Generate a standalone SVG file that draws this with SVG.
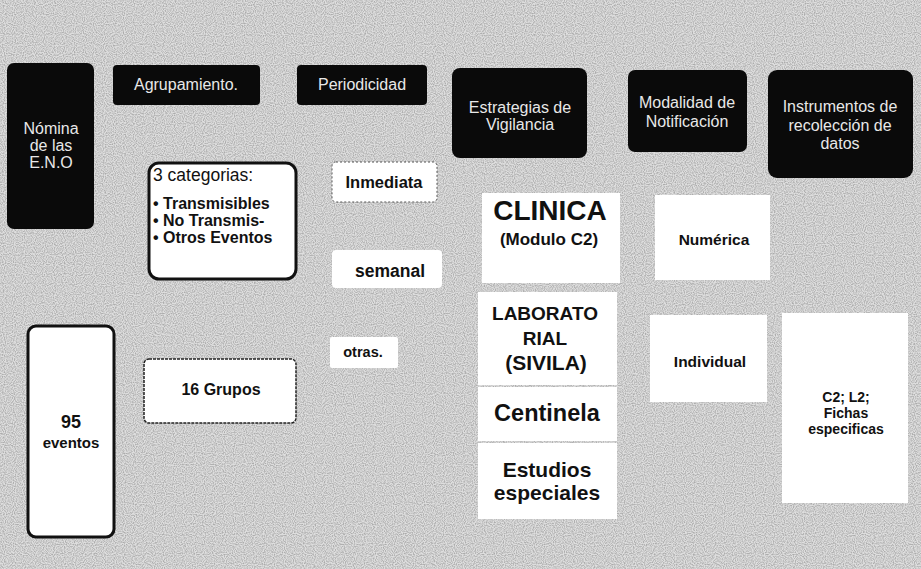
<svg xmlns="http://www.w3.org/2000/svg" width="921" height="569" viewBox="0 0 921 569">
<defs>
<filter id="noise" x="0" y="0" width="100%" height="100%">
<feTurbulence type="fractalNoise" baseFrequency="0.9" numOctaves="1" seed="3" result="t"/>
<feColorMatrix type="matrix" values="0 0 0 0 0  0 0 0 0 0  0 0 0 0 0  0 0 0 -2.6 1.65" />
</filter>
<style>
.hdr{fill:#0a0a0a;}
.ht{fill:#e8e8e8;font-family:"Liberation Sans",Arial,sans-serif;font-size:16px;text-anchor:middle;}
.wb{fill:#ffffff;}
.bb{fill:#ffffff;stroke:#111;stroke-width:3;}
.t{fill:#111;font-family:"Liberation Sans",Arial,sans-serif;text-anchor:middle;font-weight:bold;}
.tl{fill:#111;font-family:"Liberation Sans",Arial,sans-serif;font-weight:bold;}
</style>
</defs>
<rect x="0" y="0" width="921" height="569" fill="#dedede"/>
<rect x="0" y="0" width="921" height="569" fill="#000" filter="url(#noise)" opacity="0.22"/>

<g id="h-nomina">
<rect class="hdr" x="7" y="63" width="87" height="166" rx="7"/>
<text class="ht" x="51" y="134">Nómina</text>
<text class="ht" x="51" y="151">de las</text>
<text class="ht" x="51" y="168">E.N.O</text>
</g>
<g id="h-agrupamiento">
<rect class="hdr" x="113" y="65" width="147" height="40" rx="4"/>
<text class="ht" x="186" y="90">Agrupamiento.</text>
</g>
<g id="h-periodicidad">
<rect class="hdr" x="297" y="65" width="130" height="40" rx="4"/>
<text class="ht" x="362" y="90">Periodicidad</text>
</g>
<g id="h-estrategias">
<rect class="hdr" x="452" y="68" width="135" height="90" rx="8"/>
<text class="ht" x="520" y="113">Estrategias de</text>
<text class="ht" x="520" y="130">Vigilancia</text>
</g>
<g id="h-modalidad">
<rect class="hdr" x="628" y="70" width="119" height="82" rx="7"/>
<text class="ht" x="687" y="108">Modalidad de</text>
<text class="ht" x="687" y="127">Notificación</text>
</g>
<g id="h-instrumentos">
<rect class="hdr" x="768" y="70" width="145" height="108" rx="9"/>
<text class="ht" x="840" y="112">Instrumentos de</text>
<text class="ht" x="840" y="131">recolección de</text>
<text class="ht" x="840" y="149">datos</text>
</g>

<g id="n-categorias">
<rect class="bb" x="149" y="163" width="147" height="116" rx="10"/>
<text class="tl" x="153" y="181" font-size="17.5" style="font-weight:normal">3 categorias:</text>
<text class="tl" x="153" y="209" font-size="16">• Transmisibles</text>
<text class="tl" x="153" y="226" font-size="16">• No Transmis-</text>
<text class="tl" x="153" y="243" font-size="16">• Otros Eventos</text>
</g>
<g id="n-95">
<rect class="bb" x="28" y="326" width="86" height="211" rx="8"/>
<text class="t" x="71" y="428" font-size="18">95</text>
<text class="t" x="71" y="448" font-size="15">eventos</text>
</g>
<g id="n-16grupos">
<rect x="144" y="359" width="152" height="64" rx="5" fill="#fff" stroke="#222" stroke-width="1.5" stroke-dasharray="3 1"/>
<text class="t" x="221" y="395" font-size="16">16 Grupos</text>
</g>

<g id="n-inmediata">
<rect x="332" y="162" width="105" height="40" rx="4" fill="#fff" stroke="#555" stroke-width="1" stroke-dasharray="2 2"/>
<text class="t" x="384" y="188" font-size="16.5">Inmediata</text>
</g>
<g id="n-semanal">
<rect class="wb" x="332" y="250" width="110" height="38" rx="4"/>
<text class="t" x="390" y="277" font-size="17.5">semanal</text>
</g>
<g id="n-otras">
<rect class="wb" x="330" y="337" width="68" height="31" rx="2"/>
<text class="t" x="363" y="357" font-size="14.5">otras.</text>
</g>

<g id="n-clinica">
<rect class="wb" x="482" y="193" width="138" height="90"/>
<text class="t" x="550" y="220" font-size="28">CLINICA</text>
<text class="t" x="549" y="245" font-size="17">(Modulo C2)</text>
</g>
<g id="n-laboratorial">
<rect class="wb" x="478" y="292" width="139" height="93"/>
<text class="t" x="545" y="320" font-size="19">LABORATO</text>
<text class="t" x="545" y="345" font-size="19">RIAL</text>
<text class="t" x="546" y="370" font-size="21">(SIVILA)</text>
</g>
<g id="n-centinela">
<rect class="wb" x="478" y="387" width="139" height="54"/>
<text class="t" x="547" y="421" font-size="23.5">Centinela</text>
</g>
<g id="n-estudios">
<rect class="wb" x="478" y="443" width="139" height="76"/>
<text class="t" x="547" y="477" font-size="21">Estudios</text>
<text class="t" x="547" y="500" font-size="21">especiales</text>
</g>

<g id="n-numerica">
<rect class="wb" x="655" y="195" width="115" height="85"/>
<text class="t" x="714" y="245" font-size="15.5">Numérica</text>
</g>
<g id="n-individual">
<rect class="wb" x="650" y="315" width="117" height="87"/>
<text class="t" x="710" y="367" font-size="15.5">Individual</text>
</g>
<g id="n-c2l2">
<rect class="wb" x="782" y="313" width="126" height="190"/>
<text class="t" x="846" y="402" font-size="14">C2; L2;</text>
<text class="t" x="846" y="418" font-size="14">Fichas</text>
<text class="t" x="846" y="434" font-size="14">especificas</text>
</g>

<g id="connectors"></g>
</svg>
